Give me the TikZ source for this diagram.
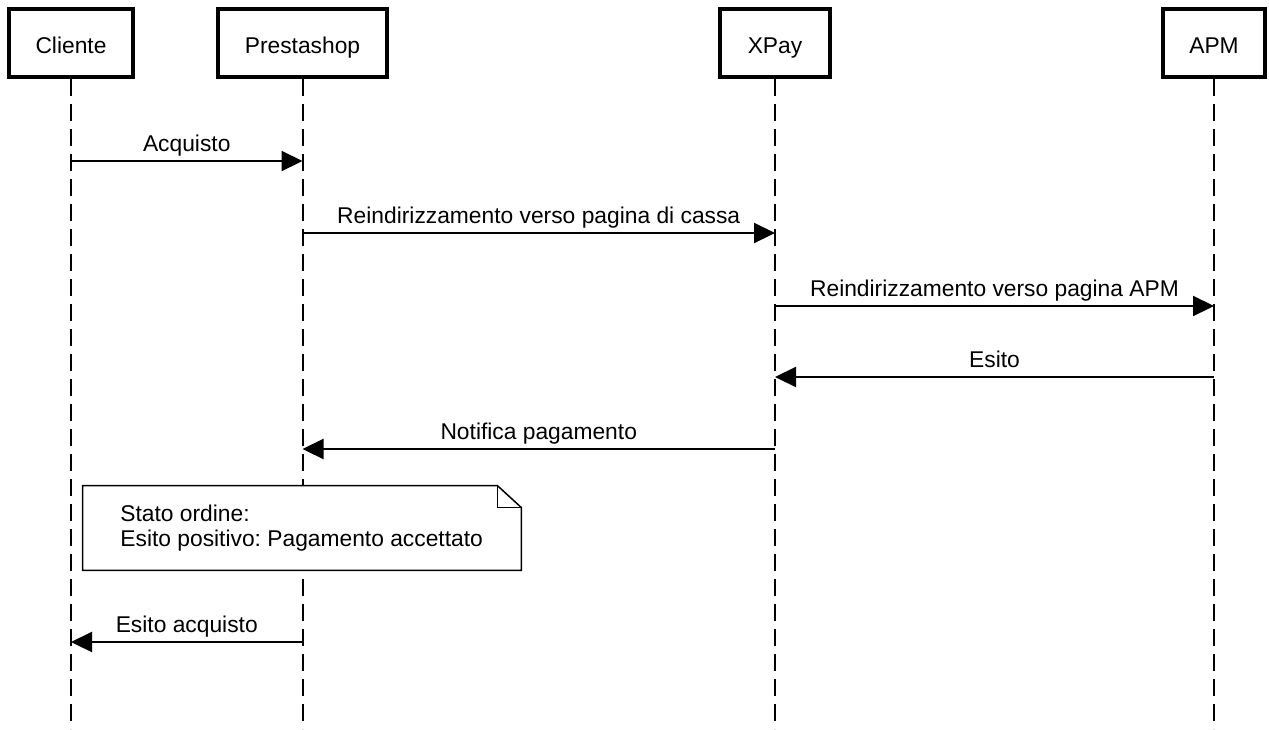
\documentclass[tikz,border=0pt]{standalone}
\usepackage{fontspec}
\setmainfont{Liberation Sans}
\usetikzlibrary{arrows.meta}
\frenchspacing

\tikzset{
  actor/.style={draw, line width=2pt, minimum height=34pt, inner sep=0pt, fill=white,
    text height=11pt, text depth=1pt},
  lifeline/.style={line width=1pt, dash pattern=on 8.5pt off 4pt},
  msg/.style={line width=1.1pt, -{Triangle[length=10.5pt,width=10pt]}},
  msglabel/.style={anchor=base, yshift=5pt},
  notebox/.style={minimum width=219pt, minimum height=42pt, inner sep=0pt}
}

\begin{document}
\begin{tikzpicture}
                        [x=0.5pt, y=-0.5pt, font=\fontsize{11.4}{12.5}\selectfont]
                        \useasboundingbox (0,0) rectangle (1269,729);
                        \node[actor, minimum width=62pt] (cliente) at (71,43) {Cliente};
                        \node[actor, minimum width=84.5pt] (presta) at (302.5,43) {Prestashop};
                        \node[actor, minimum width=55pt] (xpay) at (775,43) {XPay};
                        \node[actor, minimum width=51pt] (apm) at (1214,43) {APM};
                        \coordinate (bottom) at (0,729);
                        \foreach \n in {cliente,presta,xpay,apm}
                        \draw[lifeline] (\n.south) -- (\n |- bottom);
                        \foreach \from/\to/\y/\txt in {cliente/presta/161/Acquisto,
                            presta/xpay/233/Reindirizzamento verso pagina di cassa,
                            xpay/apm/306/Reindirizzamento verso pagina APM,
                            apm/xpay/377/Esito,
                            xpay/presta/449/Notifica pagamento,
                            presta/cliente/642/Esito acquisto}
                        \draw[msg] (\from |- 0,\y) -- node[msglabel] {\txt} (\to |- 0,\y);
                        \node[notebox] (note) at (302,528) {};
                        \draw[fill=white, line width=0.75pt] (note.north west) -- ([xshift=-12pt]note.north east)
                            -- ([yshift=-11pt]note.north east) -- (note.south east) -- (note.south west) -- cycle;
                        \draw[line width=0.75pt] ([xshift=-12pt]note.north east) |- ([yshift=-11pt]note.north east);
                        \node[anchor=west, align=left, inner sep=0pt] (notetext) at (120,528)
                            {Stato ordine:\\Esito positivo: Pagamento accettato};
                    \end{tikzpicture}
\end{document}
